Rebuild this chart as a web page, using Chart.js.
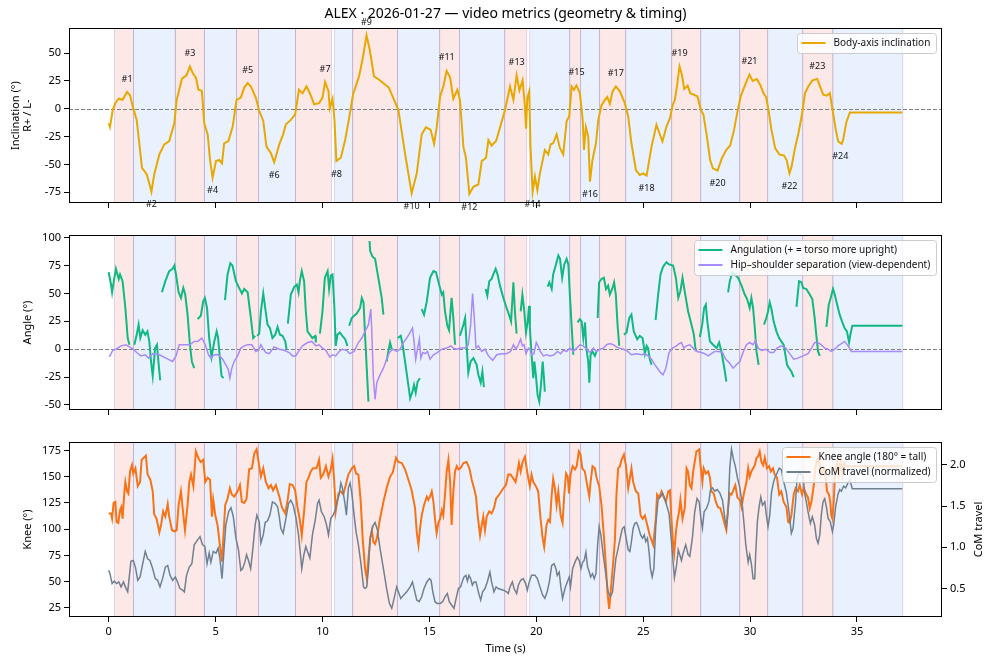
<!DOCTYPE html>
<html>
<head>
<meta charset="utf-8">
<script src="https://cdn.jsdelivr.net/npm/chart.js@4.4.1/dist/chart.umd.min.js"></script>
<style>
  html, body { margin: 0; padding: 0; background: #fff; }
  #wrap { position: relative; width: 993px; height: 664px; }
  canvas { position: absolute; left: 0; }
</style>
</head>
<body>
<div id="wrap">
  <canvas id="inclChart" width="993" height="217" style="top:0px"></canvas>
  <canvas id="angleChart" width="993" height="207" style="top:217px"></canvas>
  <canvas id="kneeChart" width="993" height="240" style="top:424px"></canvas>
</div>
<script>
  // ---- data ----
  const xTicks = [0, 5, 10, 15, 20, 25, 30, 35];

  const bandStart = [0.27, 1.16, 3.12, 4.48, 5.98, 7.01, 8.74, 10.56, 11.41, 13.51, 15.48, 16.41, 18.52, 19.69, 21.56, 22.07, 22.96, 24.18, 26.33, 27.69, 29.51, 30.82, 32.46, 33.87];
  const bandEnd   = [1.16, 3.12, 4.48, 5.98, 7.01, 8.74, 10.42, 11.41, 13.51, 15.48, 16.41, 18.52, 19.55, 21.56, 22.07, 22.96, 24.18, 26.33, 27.69, 29.51, 30.82, 32.46, 33.87, 37.14];
  const bandKind  = ['R', 'L', 'R', 'L', 'R', 'L', 'R', 'L', 'R', 'L', 'R', 'L', 'R', 'L', 'R', 'L', 'R', 'L', 'R', 'L', 'R', 'L', 'R', 'L'];

  // body-axis inclination
  const inclT = [0, 0.06, 0.19, 0.31, 0.47, 0.65, 0.86, 1.0, 1.15, 1.31, 1.56, 1.78, 1.9, 2.0, 2.13, 2.37, 2.6, 2.83, 3.07, 3.18, 3.43, 3.64, 3.8, 3.93, 4.08, 4.2, 4.36, 4.47, 4.63, 4.74, 4.86, 5.02, 5.17, 5.3, 5.4, 5.6, 5.8, 5.98, 6.18, 6.34, 6.5, 6.65, 6.88, 7.04, 7.23, 7.38, 7.59, 7.74, 7.98, 8.16, 8.29, 8.52, 8.72, 8.9, 9.07, 9.25, 9.41, 9.61, 9.84, 10.0, 10.12, 10.28, 10.34, 10.47, 10.56, 10.65, 10.86, 11.06, 11.25, 11.43, 11.71, 11.9, 12.06, 12.21, 12.41, 12.65, 13.1, 13.35, 13.55, 13.86, 14.17, 14.41, 14.64, 14.84, 15.06, 15.22, 15.34, 15.5, 15.65, 15.81, 15.97, 16.12, 16.31, 16.43, 16.59, 16.71, 16.87, 17.06, 17.29, 17.45, 17.65, 17.76, 17.91, 18.12, 18.3, 18.54, 18.77, 18.93, 19.08, 19.21, 19.36, 19.47, 19.52, 19.58, 19.67, 19.73, 19.83, 19.94, 20.05, 20.17, 20.4, 20.56, 20.67, 20.79, 20.95, 21.1, 21.26, 21.42, 21.54, 21.65, 21.76, 21.88, 22.04, 22.17, 22.23, 22.32, 22.43, 22.51, 22.63, 22.79, 22.9, 23.05, 23.21, 23.32, 23.44, 23.57, 23.72, 23.91, 24.14, 24.3, 24.45, 24.66, 24.84, 25.0, 25.16, 25.39, 25.62, 25.9, 26.09, 26.25, 26.37, 26.48, 26.58, 26.7, 26.81, 26.92, 27.08, 27.2, 27.36, 27.54, 27.7, 27.82, 27.98, 28.13, 28.26, 28.48, 28.68, 28.88, 29.07, 29.25, 29.41, 29.56, 29.77, 29.97, 30.12, 30.31, 30.47, 30.62, 30.75, 30.86, 31.0, 31.17, 31.37, 31.59, 31.71, 31.84, 31.94, 32.1, 32.26, 32.41, 32.57, 32.72, 32.92, 33.14, 33.27, 33.42, 33.58, 33.73, 33.86, 34.01, 34.12, 34.28, 34.35, 34.51, 34.67, 37.12];
  const inclV = [-13, -16.5, -1, 5, 9, 8, 15, 12, 0.5, -10, -53, -59, -67, -74.5, -59, -41, -32, -29, -13, 8, 27, 30, 38, 32, 28, 17, 16, -13, -23, -46, -62, -47, -46, -49, -31, -29, -16, 8, 10, 19, 23, 20, 10, -2, -11, -34, -40, -48, -32, -23, -14, -10, -5, 17, 14, 20, 14, 4, 5, 10, 24, 16, 0.5, 9, -10, -47, -44, -28, -8, 13, 29, 47, 66, 53, 29, 26, 19, 8, -1, -40, -76, -58, -23, -16.5, -19, -31.5, -17, 11, 20, 34, 28, 9, 17, 8, -34, -44, -76.5, -70, -68, -47, -44, -28, -33, -29, -17, -1, 20, 8, 30, 16.5, 25.5, 2, -18, 9.6, 15.6, -34, -74.5, -61, -73, -58, -37, -41, -32, -31, -23, -35, -41, -11, -7, 20, 17, 21, 14, -10, -37, -16.5, -25, -65.5, -46, -31, -10, 3, 8, 10.5, 4.5, 15.6, 20, 15.6, 5, -7, -31, -55, -59.5, -58, -60, -34, -14.4, -29.4, -16, -8.4, 2.7, 8, 20, 38, 30.6, 17.7, 20.7, 14, 12.6, 11, -1, -5.4, -25, -46, -53.5, -55.5, -44.4, -37, -33, -19, -2.4, 11, 21.6, 30.6, 25, 26.7, 21.6, 14, 10.5, -1, -19, -35.4, -41, -42, -46, -58, -52, -35.4, -22, -7, 14, 20, 25.5, 26.7, 20, 12.6, 11.7, 14, -1, -19, -29.4, -31.5, -28, -11.4, -3.3, -3.3];

  // turn markers
  const markT = [0.86, 2.0, 3.8, 4.86, 6.5, 7.74, 10.12, 10.65, 12.06, 14.17, 15.81, 16.87, 19.08, 19.83, 21.88, 22.51, 23.72, 25.16, 26.7, 28.48, 29.97, 31.84, 33.14, 34.22];
  const markV = [15, -74.5, 38, -62, 23, -48, 24, -47, 66, -76, 34, -76.5, 30, -74.5, 21, -65.5, 20, -60, 38, -55.5, 30.6, -58, 26.7, -31.5];

  // angulation (null = gap)
  const angT = [0, 0.11, 0.16, 0.23, 0.34, 0.47, 0.53, 0.65, 0.78, 0.89, 0.97, 1.08,
    1.2, 1.31, 1.4, 1.48, 1.59, 1.71, 1.81, 1.9, 1.98, 2.06, 2.17, 2.26, 2.34, 2.41, 2.45,
    2.49, 2.65, 2.83, 2.99, 3.07, 3.15, 3.27, 3.38, 3.49, 3.58, 3.69, 3.8, 3.89, 4.0, 4.08,
    4.16, 4.31, 4.42, 4.5, 4.6, 4.7, 4.81, 4.94, 5.05, 5.12, 5.2, 5.28, 5.37, 5.4,
    5.44, 5.56, 5.69, 5.79, 5.95, 6.1, 6.23, 6.34, 6.5, 6.65, 6.76, 6.85, 6.9,
    6.95, 7.04, 7.12, 7.23, 7.32, 7.43, 7.54, 7.66, 7.79, 7.9, 8.01, 8.13, 8.26, 8.32, 8.35,
    8.38, 8.52, 8.68, 8.8, 8.88, 8.94, 9.03, 9.14, 9.22, 9.3, 9.41, 9.53, 9.66, 9.69, 9.78,
    9.88, 10.0, 10.11, 10.24, 10.31, 10.39, 10.47, 10.55, 10.62, 10.7, 10.81, 10.93, 11.06, 11.17, 11.21,
    11.25, 11.37, 11.48, 11.6, 11.76, 11.84, 11.92, 11.99, 12.07, 12.15, 12.18,
    12.2, 12.23, 12.34, 12.46, 12.62, 12.77, 12.85, 12.92,
    13.0, 13.08, 13.16, 13.24, 13.4,
    13.52, 13.66, 13.75, 13.86, 13.97, 14.1, 14.21, 14.28, 14.36, 14.45, 14.56, 14.6,
    14.64, 14.75, 14.88, 15.03, 15.19, 15.31, 15.47, 15.58, 15.65, 15.73, 15.84, 15.92, 16.0, 16.04, 16.12, 16.2, 16.3,
    16.43, 16.59, 16.67, 16.74, 16.82, 16.93, 17.06, 17.21, 17.29, 17.4, 17.48, 17.55, 17.59,
    17.63, 17.71, 17.8, 17.91, 17.99, 18.1, 18.19, 18.3, 18.46, 18.61, 18.74, 18.82, 18.93, 19.0, 19.08, 19.17,
    19.27, 19.35, 19.43, 19.52, 19.6, 19.66, 19.7, 19.78, 19.86, 19.91, 19.98, 20.06, 20.14, 20.22, 20.3, 20.36, 20.4, 20.46,
    20.53, 20.61, 20.72, 20.79, 20.92, 21.03, 21.11, 21.21, 21.31, 21.42, 21.5, 21.57, 21.65, 21.73, 21.83,
    21.93, 22.04, 22.12, 22.2, 22.28, 22.34, 22.43, 22.48, 22.54, 22.63, 22.74, 22.82, 22.85,
    22.87, 22.94, 23.05, 23.16, 23.26, 23.36, 23.44, 23.55, 23.64, 23.72, 23.8, 23.88, 24.0,
    24.1, 24.22, 24.35, 24.45, 24.56, 24.72, 24.84, 24.97, 25.08, 25.16, 25.23, 25.31, 25.39, 25.48,
    25.58, 25.7, 25.81, 25.93, 26.09, 26.21, 26.4, 26.53, 26.64, 26.74, 26.84, 26.95, 27.1, 27.26, 27.37, 27.46, 27.55,
    27.65, 27.76, 27.85, 27.93, 28.0, 28.12, 28.27, 28.43, 28.55, 28.66, 28.74, 28.82, 28.89, 28.93,
    28.97, 29.05, 29.17, 29.28, 29.44, 29.6, 29.75, 29.86, 29.98, 30.06, 30.14, 30.22, 30.3, 30.4, 30.5,
    30.65, 30.76, 30.84, 30.92, 31.0, 31.1, 31.23, 31.36, 31.46, 31.57, 31.65, 31.73, 31.82, 31.93, 32.04, 32.1,
    32.17, 32.29, 32.4, 32.48, 32.63, 32.79, 32.91, 33.02, 33.1, 33.18, 33.26, 33.4,
    33.57, 33.68, 33.77, 33.88, 33.96, 34.07, 34.19, 34.3, 34.42, 34.53, 34.63, 34.69, 34.78, 37.12];
  const angV = [69, 58, 51, 60, 72, 63, 67, 61, 37, 10, 4, null,
    4, 13, 22, 10, 17, 13, 16, 7, -11, -24, 1, 4, -14, -28, null,
    51, 61, 70, 72, 75, 67, 51, 46, 55, 49, 31, 4, -11, -17, null,
    27, 30, 43, 46, 37, 10, -7, 7, 16, 10, -8, -24, -26, null,
    44, 67, 77, 75, 61, 55, 50, 54, 51, 28, 10, 12, null,
    12, 14, 34, 50, 37, 22, 19, 10, 13, 20, 13, 12, 7, 0, null,
    23, 49, 56, 58, 51, 61, 70, 61, 34, 16, 13, 10, 12, 6, null,
    14, 34, 64, 70, 54, 66, 67, 40, 3, 13, 15, 12, 9, 3, null,
    21, 28, 30, 32, 37, 46, 42, 13, -17, -47, null,
    97, 88, 83, 81, 63, 46, 31, null,
    -11, -2, 6, 0, null,
    10, 12, 4, -11, -26, -44, -38, -32, -39, -29, -26, null,
    36, 31, 43, 64, 70, 69, 57, 49, 51, 34, 21, 17, 37, 46, 28, 4, null,
    12, 22, 28, 4, -21, -11, -8, -14, -23, -30, -20, -34, null,
    54, 48, 61, 63, 67, 72, 67, 57, 46, 37, 30, 25, 60, 34, 14, null,
    34, 49, 36, 15, 25, 39, 19, -5, -26, -11, -23, -41, -47, -32, -11, -26, -38, null,
    56, 60, 54, 67, 76, 84, 81, 64, 76, 81, 76, 49, 22, -5, null,
    24, 27, 25, 10, 24, 1, -11, -30, -5, -2, -6, -2, null,
    28, 60, 63, 64, 54, 57, 49, 54, 60, 49, 22, 3, null,
    13, 15, 28, 31, 16, 9, 12, 10, -4, 3, 1, -9, -14, null,
    26, 49, 67, 74, 78, 76, 75, 64, 46, 52, 64, 51, 34, 22, 13, -2, null,
    11, 22, 37, 40, 25, 7, 4, 1, 6, -2, -11, -20, -29, null,
    51, 61, 69, 67, 64, 57, 49, 45, 37, 46, 37, 19, -2, -14, null,
    22, 28, 34, 42, 36, 25, 16, 10, 7, 4, -5, -14, -17, -20, -25, null,
    38, 61, 60, 55, 54, 49, 45, 28, 12, -2, -6, null,
    20, 40, 46, 54, 49, 40, 31, 25, 19, 16, 6, 13, 21, 21];

  // hip-shoulder separation
  const sepT = [0, 0.06, 0.19, 0.34, 0.58, 0.81, 0.97, 1.15, 1.31, 1.51, 1.71, 1.87, 2.06, 2.37, 2.68, 2.99, 3.15, 3.3, 3.43, 3.61, 3.8, 4.0, 4.16, 4.36, 4.52, 4.67, 4.78, 4.94, 5.14, 5.33, 5.48, 5.59, 5.67, 5.76, 5.87, 6.03, 6.18, 6.34, 6.5, 6.7, 6.88, 7.01, 7.12, 7.23, 7.35, 7.51, 7.74, 7.98, 8.21, 8.44, 8.6, 8.75, 8.91, 9.07, 9.3, 9.5, 9.69, 9.84, 10.0, 10.16, 10.34, 10.47, 10.62, 10.78, 10.93, 11.12, 11.28, 11.48, 11.68, 11.84, 11.99, 12.15, 12.26, 12.3, 12.38, 12.46, 12.54, 12.69, 12.85, 13.0, 13.13, 13.29, 13.47, 13.63, 13.79, 13.94, 14.1, 14.21, 14.28, 14.36, 14.45, 14.53, 14.6, 14.69, 14.8, 14.91, 15.03, 15.19, 15.37, 15.58, 15.81, 16.01, 16.12, 16.28, 16.46, 16.67, 16.82, 16.93, 17.02, 17.09, 17.18, 17.29, 17.45, 17.6, 17.76, 17.96, 18.15, 18.38, 18.61, 18.8, 18.93, 19.05, 19.16, 19.27, 19.35, 19.43, 19.52, 19.63, 19.7, 19.78, 19.89, 20.0, 20.08, 20.19, 20.33, 20.48, 20.64, 20.83, 20.99, 21.14, 21.26, 21.42, 21.57, 21.73, 21.89, 22.04, 22.2, 22.36, 22.51, 22.67, 22.82, 22.98, 23.14, 23.29, 23.44, 23.6, 23.75, 23.91, 24.07, 24.22, 24.45, 24.69, 24.92, 25.08, 25.23, 25.39, 25.55, 25.7, 25.81, 25.93, 26.06, 26.21, 26.37, 26.56, 26.68, 26.79, 26.9, 27.02, 27.18, 27.34, 27.52, 27.73, 27.88, 28.04, 28.19, 28.35, 28.55, 28.71, 28.86, 29.02, 29.21, 29.36, 29.52, 29.67, 29.83, 29.98, 30.14, 30.25, 30.37, 30.53, 30.73, 30.95, 31.1, 31.26, 31.46, 31.67, 31.85, 32.04, 32.24, 32.48, 32.71, 32.87, 33.02, 33.18, 33.33, 33.49, 33.64, 33.8, 33.96, 34.11, 34.27, 34.42, 34.58, 34.74, 37.12];
  const sepV = [-6, -6, -1, 0, 3, 4, 2, 0, -3, -6, -5, -8, -4, -5, -8, -11, -6, 4, 4, 4, 4, 7, 7, 10, 4, -5, -8, -5, -5, -9, -14, -18, -26, -17, -11, -6, 1, 3, 4, 4, -2, -1, 4, 0, -3, -4, 2, 0, -1, -3, -6, -6, -1, 3, 6, 7, 3, 4, 1, -1, -7, -5, -6, -2, 0, -1, -4, -2, 6, 10, 16, 22, 36, 19, -26, -45, -30, -23, -17, -9, -3, 0, -2, 0, 6, 10, 15, 19, 7, -9, 1, 9, -8, -3, -4, -2, -9, -5, -3, 0, 1, 3, 1, 0, 1, 1, 4, 22, 50, 31, 1, 3, -2, 0, -6, -10, -5, -4, -4, -2, 4, 0, 4, 9, 3, 4, -4, 1, 0, -5, -4, 6, 3, -2, -6, -5, -6, -5, -2, -4, -1, -2, 1, -2, 1, 4, 3, 0, -3, 1, -2, 0, 1, 4, 5, 4, 2, 1, 0, -1, -5, -4, -5, -4, -6, -9, -14, -18, -21, -23, -17, -3, 1, 3, 5, 6, 1, 3, 4, 1, -2, -3, -4, -6, -4, -2, -2, -3, -9, -12, -17, -14, -11, -3, 4, 6, 4, 8, 1, -1, 0, -3, -3, 1, 3, 1, -4, -9, -8, -6, -4, 1, 6, 6, 4, 1, 0, -2, 0, 3, 5, 7, 3, -2, -2];

  // knee angle
  const kneeT = [0, 0.11, 0.16, 0.23, 0.31, 0.37, 0.45, 0.53, 0.59, 0.65, 0.73, 0.78, 0.86, 0.92, 1.0, 1.09, 1.15, 1.25, 1.36, 1.47, 1.54, 1.64, 1.74, 1.82, 1.95, 2.06, 2.13, 2.24, 2.37, 2.45, 2.55, 2.65, 2.76, 2.83, 2.96, 3.07, 3.18, 3.27, 3.38, 3.49, 3.57, 3.69, 3.77, 3.85, 3.96, 4.08, 4.21, 4.31, 4.42, 4.52, 4.63, 4.74, 4.83, 4.89, 4.98, 5.09, 5.2, 5.3, 5.37, 5.45, 5.56, 5.67, 5.76, 5.87, 6.03, 6.14, 6.23, 6.34, 6.45, 6.57, 6.7, 6.81, 6.92, 7.01, 7.12, 7.23, 7.35, 7.48, 7.59, 7.69, 7.82, 7.98, 8.1, 8.26, 8.38, 8.47, 8.6, 8.72, 8.83, 8.94, 9.03, 9.14, 9.25, 9.35, 9.45, 9.56, 9.72, 9.84, 9.92, 10.03, 10.16, 10.28, 10.39, 10.47, 10.55, 10.62, 10.75, 10.86, 10.97, 11.09, 11.21, 11.37, 11.48, 11.57, 11.68, 11.79, 11.88, 11.99, 12.07, 12.15, 12.23, 12.31, 12.38, 12.46, 12.54, 12.69, 12.85, 13.0, 13.16, 13.29, 13.44, 13.55, 13.71, 13.86, 14.02, 14.17, 14.33, 14.41, 14.49, 14.56, 14.64, 14.75, 14.88, 14.95, 15.03, 15.11, 15.19, 15.26, 15.34, 15.42, 15.5, 15.58, 15.65, 15.73, 15.81, 15.89, 15.97, 16.04, 16.12, 16.2, 16.28, 16.36, 16.46, 16.59, 16.74, 16.87, 16.98, 17.09, 17.18, 17.26, 17.37, 17.45, 17.52, 17.6, 17.68, 17.8, 17.91, 18.02, 18.12, 18.3, 18.46, 18.58, 18.69, 18.8, 18.93, 19.03, 19.11, 19.19, 19.27, 19.36, 19.47, 19.55, 19.63, 19.7, 19.78, 19.86, 19.98, 20.09, 20.2, 20.3, 20.37, 20.48, 20.56, 20.64, 20.72, 20.79, 20.87, 20.95, 21.03, 21.14, 21.23, 21.31, 21.39, 21.47, 21.53, 21.6, 21.7, 21.81, 21.89, 21.99, 22.07, 22.15, 22.27, 22.38, 22.48, 22.54, 22.63, 22.74, 22.82, 22.94, 23.05, 23.16, 23.26, 23.33, 23.41, 23.49, 23.6, 23.68, 23.75, 23.83, 23.91, 23.99, 24.1, 24.19, 24.3, 24.38, 24.45, 24.53, 24.66, 24.77, 24.88, 24.97, 25.08, 25.19, 25.31, 25.47, 25.59, 25.65, 25.75, 25.86, 25.97, 26.06, 26.17, 26.25, 26.32, 26.4, 26.45, 26.53, 26.59, 26.68, 26.74, 26.84, 26.95, 27.03, 27.1, 27.18, 27.26, 27.34, 27.41, 27.49, 27.62, 27.68, 27.77, 27.83, 27.93, 28.04, 28.12, 28.19, 28.3, 28.4, 28.5, 28.61, 28.71, 28.82, 28.89, 28.97, 29.05, 29.13, 29.21, 29.31, 29.41, 29.52, 29.6, 29.7, 29.83, 29.91, 29.98, 30.06, 30.14, 30.22, 30.3, 30.37, 30.45, 30.53, 30.61, 30.69, 30.79, 30.89, 30.97, 31.07, 31.15, 31.26, 31.36, 31.46, 31.57, 31.7, 31.78, 31.85, 31.93, 32.04, 32.13, 32.24, 32.32, 32.43, 32.51, 32.63, 32.71, 32.79, 32.87, 32.98, 33.07, 33.18, 33.26, 33.33, 33.44, 33.54, 33.6, 33.69, 33.75, 33.8, 33.85, 33.91, 33.99, 34.07, 34.15, 34.23, 34.32, 34.4, 34.5, 37.12];
  const kneeV = [115, 115, 110, 125, 126, 107, 106, 118, 121, 110, 134, 145, 136, 134, 155, 161, 153, 158, 141, 145, 166, 168, 170, 152, 147, 136, 114, 110, 97, 104, 117, 112, 124, 112, 99, 98, 99, 123, 136, 114, 99, 123, 145, 152, 141, 174, 167, 164, 166, 145, 149, 147, 112, 128, 114, 104, 85, 69, 94, 123, 129, 139, 133, 131, 136, 142, 126, 125, 129, 157, 158, 172, 176, 164, 150, 158, 145, 139, 142, 137, 142, 131, 121, 115, 129, 143, 142, 137, 121, 109, 94, 117, 145, 149, 155, 158, 158, 166, 149, 152, 160, 150, 157, 167, 145, 117, 134, 136, 133, 142, 152, 158, 160, 153, 152, 126, 91, 63, 53, 72, 91, 99, 88, 86, 91, 110, 126, 139, 150, 154, 168, 164, 163, 157, 147, 137, 120, 97, 85, 100, 113, 123, 131, 128, 131, 136, 126, 110, 96, 106, 110, 118, 113, 133, 155, 166, 145, 104, 136, 155, 160, 157, 158, 163, 164, 158, 147, 139, 131, 113, 94, 104, 112, 99, 112, 117, 115, 120, 129, 134, 139, 142, 152, 152, 148, 145, 153, 163, 155, 164, 169, 158, 148, 141, 152, 145, 141, 136, 110, 91, 83, 104, 109, 107, 133, 148, 139, 123, 136, 113, 106, 133, 153, 150, 134, 152, 160, 157, 160, 174, 171, 158, 155, 142, 131, 145, 160, 158, 149, 141, 123, 94, 63, 40, 24, 43, 69, 91, 133, 158, 160, 166, 171, 161, 139, 149, 158, 145, 136, 134, 113, 110, 113, 104, 94, 85, 110, 133, 130, 136, 130, 126, 136, 137, 110, 85, 77, 97, 107, 117, 128, 110, 121, 158, 155, 142, 139, 155, 164, 174, 176, 161, 145, 158, 153, 155, 149, 136, 134, 126, 121, 120, 113, 104, 99, 120, 134, 133, 137, 142, 130, 128, 121, 133, 145, 158, 150, 155, 158, 161, 168, 169, 174, 164, 161, 168, 158, 160, 155, 158, 152, 149, 133, 136, 126, 121, 107, 106, 113, 133, 139, 136, 142, 133, 139, 133, 130, 120, 126, 142, 161, 168, 161, 152, 158, 149, 136, 133, 126, 113, 110, 126, 158, 164, 152, 165, 152, 163, 160, 160];

  // CoM travel (normalized)
  const comT = [0, 0.06, 0.16, 0.26, 0.37, 0.47, 0.58, 0.69, 0.78, 0.89, 0.97, 1.04, 1.15, 1.25, 1.36, 1.47, 1.59, 1.71, 1.82, 1.93, 2.06, 2.18, 2.29, 2.4, 2.52, 2.65, 2.76, 2.87, 2.99, 3.12, 3.22, 3.33, 3.46, 3.54, 3.64, 3.77, 3.89, 4.0, 4.16, 4.27, 4.39, 4.5, 4.6, 4.7, 4.78, 4.89, 5.02, 5.12, 5.2, 5.3, 5.4, 5.48, 5.61, 5.72, 5.83, 5.95, 6.07, 6.18, 6.26, 6.37, 6.45, 6.54, 6.64, 6.73, 6.85, 6.93, 7.04, 7.12, 7.23, 7.32, 7.43, 7.54, 7.66, 7.79, 7.9, 7.98, 8.05, 8.16, 8.29, 8.41, 8.52, 8.63, 8.75, 8.88, 8.97, 9.03, 9.13, 9.22, 9.3, 9.41, 9.53, 9.66, 9.77, 9.84, 9.95, 10.08, 10.19, 10.28, 10.39, 10.5, 10.59, 10.7, 10.78, 10.86, 10.93, 11.04, 11.12, 11.21, 11.29, 11.37, 11.48, 11.57, 11.68, 11.79, 11.92, 11.99, 12.07, 12.15, 12.23, 12.31, 12.38, 12.46, 12.57, 12.69, 12.85, 13.0, 13.13, 13.24, 13.35, 13.47, 13.55, 13.66, 13.79, 13.94, 14.1, 14.21, 14.3, 14.41, 14.52, 14.64, 14.75, 14.88, 15.0, 15.08, 15.16, 15.26, 15.37, 15.5, 15.62, 15.73, 15.84, 15.93, 16.04, 16.15, 16.25, 16.36, 16.46, 16.56, 16.62, 16.71, 16.78, 16.85, 16.93, 17.01, 17.09, 17.18, 17.29, 17.4, 17.49, 17.6, 17.71, 17.83, 17.91, 18.02, 18.12, 18.22, 18.46, 18.61, 18.69, 18.77, 18.88, 18.96, 19.08, 19.16, 19.27, 19.39, 19.5, 19.58, 19.67, 19.78, 19.94, 20.05, 20.17, 20.3, 20.4, 20.51, 20.61, 20.72, 20.83, 20.92, 20.98, 21.07, 21.15, 21.23, 21.34, 21.45, 21.54, 21.6, 21.7, 21.81, 21.92, 22.01, 22.09, 22.17, 22.24, 22.32, 22.4, 22.48, 22.54, 22.63, 22.71, 22.79, 22.87, 22.94, 23.02, 23.13, 23.26, 23.36, 23.47, 23.57, 23.64, 23.72, 23.83, 23.94, 24.03, 24.11, 24.19, 24.3, 24.38, 24.45, 24.53, 24.61, 24.69, 24.77, 24.88, 24.97, 25.05, 25.12, 25.2, 25.28, 25.34, 25.42, 25.5, 25.59, 25.7, 25.81, 25.9, 26.01, 26.12, 26.21, 26.32, 26.4, 26.46, 26.56, 26.64, 26.71, 26.79, 26.87, 26.99, 27.1, 27.18, 27.3, 27.41, 27.52, 27.62, 27.7, 27.77, 27.85, 27.96, 28.07, 28.15, 28.24, 28.35, 28.46, 28.58, 28.71, 28.82, 28.89, 28.97, 29.05, 29.13, 29.21, 29.31, 29.41, 29.52, 29.63, 29.72, 29.8, 29.91, 29.98, 30.06, 30.14, 30.22, 30.26, 30.34, 30.42, 30.5, 30.58, 30.69, 30.76, 30.84, 30.92, 31.0, 31.07, 31.15, 31.23, 31.36, 31.46, 31.57, 31.7, 31.82, 31.93, 32.01, 32.12, 32.2, 32.29, 32.4, 32.48, 32.55, 32.63, 32.71, 32.82, 32.91, 33.02, 33.1, 33.18, 33.26, 33.33, 33.41, 33.49, 33.57, 33.65, 33.75, 33.85, 33.91, 34.0, 34.11, 34.19, 34.27, 34.37, 34.47, 34.58, 34.66, 34.78, 37.12];
  const comV = [0.72, 0.68, 0.56, 0.59, 0.56, 0.58, 0.52, 0.58, 0.52, 0.46, 0.66, 0.83, 0.84, 0.76, 0.6, 0.64, 0.8, 0.95, 0.86, 0.84, 0.74, 0.62, 0.6, 0.52, 0.62, 0.76, 0.78, 0.66, 0.6, 0.64, 0.58, 0.5, 0.48, 0.46, 0.66, 0.76, 0.8, 1.03, 1.09, 1.13, 1.03, 1.01, 0.8, 0.93, 0.82, 0.95, 0.93, 0.99, 0.87, 0.62, 0.99, 1.27, 1.43, 1.48, 1.37, 1.11, 0.97, 0.72, 0.74, 0.82, 0.91, 0.84, 0.74, 0.95, 1.27, 1.39, 1.31, 1.05, 1.15, 1.3, 1.32, 1.39, 1.55, 1.53, 1.49, 1.37, 1.23, 1.17, 1.35, 1.53, 1.57, 1.51, 1.37, 1.15, 0.91, 0.74, 0.91, 1.01, 0.95, 0.87, 1.15, 1.33, 1.53, 1.57, 1.43, 1.37, 1.27, 1.15, 1.35, 1.39, 1.45, 1.57, 1.64, 1.78, 1.72, 1.55, 1.39, 1.72, 1.78, 1.66, 1.39, 1.19, 1.03, 0.82, 0.52, 0.5, 0.52, 0.74, 1.11, 1.21, 1.27, 1.3, 1.21, 0.99, 0.74, 0.5, 0.32, 0.26, 0.38, 0.52, 0.46, 0.38, 0.42, 0.46, 0.52, 0.58, 0.48, 0.36, 0.34, 0.4, 0.5, 0.58, 0.62, 0.6, 0.46, 0.34, 0.32, 0.32, 0.34, 0.4, 0.44, 0.34, 0.3, 0.26, 0.38, 0.5, 0.52, 0.6, 0.64, 0.66, 0.59, 0.66, 0.62, 0.54, 0.58, 0.58, 0.46, 0.36, 0.46, 0.5, 0.58, 0.7, 0.58, 0.46, 0.52, 0.5, 0.48, 0.46, 0.44, 0.52, 0.58, 0.5, 0.44, 0.54, 0.6, 0.62, 0.56, 0.48, 0.58, 0.66, 0.66, 0.62, 0.52, 0.42, 0.38, 0.46, 0.58, 0.78, 0.8, 0.74, 0.66, 0.7, 0.52, 0.38, 0.5, 0.58, 0.64, 0.52, 0.74, 0.82, 0.88, 0.84, 0.74, 0.82, 0.84, 0.94, 0.76, 0.7, 0.64, 0.68, 0.62, 0.68, 1.03, 1.25, 1.15, 0.91, 0.66, 0.46, 0.4, 0.46, 0.66, 0.86, 0.99, 1.13, 1.23, 1.25, 1.13, 0.97, 0.95, 1.07, 1.23, 1.29, 1.3, 1.25, 1.15, 1.11, 1.15, 1.07, 1.11, 0.93, 0.74, 0.64, 0.74, 1.27, 1.59, 1.61, 1.66, 1.59, 1.49, 1.41, 1.07, 0.82, 0.63, 0.78, 0.97, 0.91, 0.84, 0.93, 1.03, 0.91, 0.89, 1.11, 1.43, 1.59, 1.55, 1.35, 1.23, 1.43, 1.47, 1.55, 1.7, 1.72, 1.68, 1.7, 1.66, 1.57, 1.35, 1.25, 1.43, 1.96, 2.19, 2.08, 1.98, 1.84, 1.72, 1.53, 1.27, 1.03, 0.82, 0.91, 0.8, 0.62, 0.62, 0.91, 1.31, 1.49, 1.61, 1.51, 1.55, 1.39, 1.25, 1.39, 1.66, 1.76, 1.84, 1.88, 1.96, 1.94, 1.8, 1.66, 1.43, 1.17, 1.23, 1.53, 1.84, 1.92, 1.88, 1.86, 1.66, 1.55, 1.43, 1.29, 1.37, 1.27, 1.11, 1.05, 1.15, 1.39, 1.55, 1.59, 1.49, 1.35, 1.31, 1.19, 1.27, 1.49, 1.64, 1.7, 1.68, 1.74, 1.72, 1.78, 1.82, 1.71, 1.71];

  // ---- helpers / plugins ----
  const FONT = '"Noto Sans", "DejaVu Sans", sans-serif';
  const XMIN = -1.856, XMAX = 38.976;

  function pts(t, v) {
    return t.map(function (x, i) { return { x: x, y: v[i] }; });
  }

  const bands = {
    id: 'bands',
    beforeDatasetsDraw(chart) {
      const { ctx, chartArea: a, scales: { x } } = chart;
      ctx.save();
      ctx.beginPath();
      ctx.rect(a.left, a.top, a.width, a.height);
      ctx.clip();
      for (let i = 0; i < bandStart.length; i++) {
        const x0 = x.getPixelForValue(bandStart[i]);
        const x1 = x.getPixelForValue(bandEnd[i]);
        ctx.fillStyle = bandKind[i] === 'R' ? 'rgba(239,68,68,0.12)' : 'rgba(59,130,246,0.11)';
        ctx.fillRect(x0, a.top, x1 - x0, a.height);
        ctx.strokeStyle = 'rgba(120,90,160,0.22)';
        ctx.lineWidth = 1;
        ctx.beginPath();
        ctx.moveTo(x0, a.top); ctx.lineTo(x0, a.bottom);
        ctx.moveTo(x1, a.top); ctx.lineTo(x1, a.bottom);
        ctx.stroke();
      }
      ctx.restore();
    }
  };

  const zeroLine = {
    id: 'zeroLine',
    beforeDatasetsDraw(chart, args, opts) {
      if (!opts || !opts.show) return;
      const { ctx, chartArea: a, scales: { y } } = chart;
      const yy = Math.round(y.getPixelForValue(0)) + 0.5;
      ctx.save();
      ctx.strokeStyle = '#808080';
      ctx.lineWidth = 1;
      ctx.setLineDash([4, 2]);
      ctx.beginPath();
      ctx.moveTo(a.left, yy); ctx.lineTo(a.right, yy);
      ctx.stroke();
      ctx.restore();
    }
  };

  const marks = {
    id: 'marks',
    afterDatasetsDraw(chart, args, opts) {
      if (!opts || !opts.show) return;
      const { ctx, scales: { x, y } } = chart;
      ctx.save();
      ctx.font = '9px ' + FONT;
      ctx.fillStyle = '#111';
      ctx.textAlign = 'center';
      ctx.textBaseline = 'middle';
      for (let i = 0; i < markT.length; i++) {
        const px = x.getPixelForValue(markT[i]);
        const py = y.getPixelForValue(markV[i]) + (markV[i] >= 0 ? -13 : 13);
        ctx.fillText('#' + (i + 1), px, py);
      }
      ctx.restore();
    }
  };

  const boxLegend = {
    id: 'boxLegend',
    afterDatasetsDraw(chart) {
      const { ctx, chartArea: a } = chart;
      const items = chart.data.datasets;
      ctx.save();
      ctx.font = '10px ' + FONT;
      let w = 0;
      items.forEach(function (d) { w = Math.max(w, ctx.measureText(d.label).width); });
      const boxW = Math.round(w + 42), boxH = items.length * 15 + 5;
      const x0 = Math.round(a.right - 6 - boxW) + 0.5, y0 = Math.round(a.top + 5) + 0.5;
      ctx.fillStyle = 'rgba(255,255,255,0.8)';
      ctx.strokeStyle = '#cccccc';
      ctx.lineWidth = 1;
      ctx.beginPath();
      ctx.roundRect(x0, y0, boxW, boxH, 3);
      ctx.fill();
      ctx.stroke();
      items.forEach(function (d, i) {
        const yy = y0 + 9.5 + 15 * i;
        ctx.strokeStyle = d.borderColor;
        ctx.lineWidth = 2;
        ctx.beginPath();
        ctx.moveTo(x0 + 4, yy); ctx.lineTo(x0 + 28, yy);
        ctx.stroke();
        ctx.fillStyle = '#111';
        ctx.textBaseline = 'middle';
        ctx.fillText(d.label, x0 + 36, yy);
      });
      ctx.restore();
    }
  };

  const frame = {
    id: 'frame',
    afterDraw(chart) {
      const { ctx, chartArea: a } = chart;
      ctx.save();
      ctx.strokeStyle = '#000';
      ctx.lineWidth = 1;
      ctx.strokeRect(Math.round(a.left) + 0.5, Math.round(a.top) + 0.5, Math.round(a.width) - 1, Math.round(a.height) - 1);
      ctx.restore();
    }
  };

  // right-hand axis label, read bottom to top like the original
  const rightTitle = {
    id: 'rightTitle',
    afterDraw(chart, args, opts) {
      if (!opts || !opts.text) return;
      const { ctx, chartArea: a } = chart;
      ctx.save();
      ctx.font = '11px ' + FONT;
      ctx.fillStyle = '#000';
      ctx.textAlign = 'center';
      ctx.textBaseline = 'middle';
      ctx.translate(979, (a.top + a.bottom) / 2);
      ctx.rotate(-Math.PI / 2);
      ctx.fillText(opts.text, 0, 0);
      ctx.restore();
    }
  };

  function xAxis(showLabels) {
    return {
      type: 'linear', min: XMIN, max: XMAX,
      afterBuildTicks: function (s) { s.ticks = xTicks.map(function (v) { return { value: v }; }); },
      afterFit: function (s) { s.height = showLabels ? 47 : 14; },
      grid: { drawOnChartArea: false, drawTicks: true, tickLength: 5, color: '#000' },
      border: { display: false },
      ticks: { display: showLabels, autoSkip: false, maxRotation: 0, color: '#000', padding: 3, font: { family: FONT, size: 11 } },
      title: { display: showLabels, text: 'Time (s)', color: '#000', font: { family: FONT, size: 11 }, padding: { top: 0, bottom: 9 } }
    };
  }

  function yAxis(min, max, tickVals, title, pad, lh) {
    return {
      type: 'linear', position: 'left', min: min, max: max,
      afterBuildTicks: function (s) { s.ticks = tickVals.map(function (v) { return { value: v }; }); },
      afterFit: function (s) { s.width = 69; },
      grid: { drawOnChartArea: false, drawTicks: true, tickLength: 5, color: '#000' },
      border: { display: false },
      ticks: { color: '#000', padding: 3, font: { family: FONT, size: 11 } },
      title: { display: true, text: title, color: '#000', font: { family: FONT, size: 11, lineHeight: lh || 1.2 }, padding: { top: pad, bottom: 0 } }
    };
  }

  Chart.defaults.font.family = FONT;
  Chart.defaults.animation = false;

  const basePlugins = {
    legend: { display: false },
    tooltip: { enabled: false }
  };

  // ---- panel 1: inclination ----
  const inclChart = new Chart(document.getElementById('inclChart').getContext('2d'), {
    type: 'line',
    data: {
      datasets: [{
        label: 'Body-axis inclination',
        data: pts(inclT, inclV),
        borderColor: '#e9a800',
        borderWidth: 2,
        pointRadius: 0,
        tension: 0
      }]
    },
    options: {
      responsive: false,
      layout: { padding: { left: 0, right: 51, top: 0, bottom: 0 } },
      scales: {
        x: xAxis(false),
        y: yAxis(-84.6, 72.2, [-75, -50, -25, 0, 25, 50], ['Inclination (°)', 'R+ / L-'], 10, 1.1)
      },
      plugins: Object.assign({}, basePlugins, {
        title: {
          display: true, fullSize: false, color: '#000',
          text: 'ALEX · 2026-01-27 — video metrics (geometry & timing)',
          font: { family: FONT, size: 14, weight: 'normal' },
          padding: { top: 6, bottom: 5.5 }
        },
        zeroLine: { show: true },
        marks: { show: true }
      })
    },
    plugins: [bands, zeroLine, marks, boxLegend, frame]
  });

  // ---- panel 2: angles ----
  const angleChart = new Chart(document.getElementById('angleChart').getContext('2d'), {
    type: 'line',
    data: {
      datasets: [{
        label: 'Angulation (+ = torso more upright)',
        data: pts(angT, angV),
        borderColor: '#10b981',
        borderWidth: 2,
        pointRadius: 0,
        tension: 0,
        spanGaps: false,
        order: 2
      }, {
        label: 'Hip–shoulder separation (view-dependent)',
        data: pts(sepT, sepV),
        borderColor: '#a78bfa',
        borderWidth: 1.5,
        pointRadius: 0,
        tension: 0,
        order: 1
      }]
    },
    options: {
      responsive: false,
      layout: { padding: { left: 0, right: 51, top: 18, bottom: 0 } },
      scales: {
        x: xAxis(false),
        y: yAxis(-54.5, 102.4, [-50, -25, 0, 25, 50, 75, 100], 'Angle (°)', 21)
      },
      plugins: Object.assign({}, basePlugins, { zeroLine: { show: true } })
    },
    plugins: [bands, zeroLine, boxLegend, frame]
  });

  // ---- panel 3: knee + CoM ----
  const kneeChart = new Chart(document.getElementById('kneeChart').getContext('2d'), {
    type: 'line',
    data: {
      datasets: [{
        label: 'Knee angle (180° = tall)',
        data: pts(kneeT, kneeV),
        borderColor: '#f97316',
        borderWidth: 2,
        pointRadius: 0,
        tension: 0,
        yAxisID: 'y',
        order: 2
      }, {
        label: 'CoM travel (normalized)',
        data: pts(comT, comV),
        borderColor: '#708090',
        borderWidth: 1.5,
        pointRadius: 0,
        tension: 0,
        yAxisID: 'y2',
        order: 1
      }]
    },
    options: {
      responsive: false,
      layout: { padding: { left: 0, right: 0, top: 18, bottom: 0 } },
      scales: {
        x: xAxis(true),
        y: yAxis(16.4, 183, [25, 50, 75, 100, 125, 150, 175], 'Knee (°)', 21),
        y2: {
          type: 'linear', position: 'right', min: 0.155, max: 2.276,
          afterBuildTicks: function (s) { s.ticks = [0.5, 1.0, 1.5, 2.0].map(function (v) { return { value: v }; }); },
          afterFit: function (s) { s.width = 51; },
          grid: { drawOnChartArea: false, drawTicks: true, tickLength: 5, color: '#000' },
          border: { display: false },
          ticks: { color: '#000', padding: 3, font: { family: FONT, size: 11 }, callback: function (v) { return v.toFixed(1); } },
          title: { display: false }
        }
      },
      plugins: Object.assign({}, basePlugins, { rightTitle: { text: 'CoM travel' } })
    },
    plugins: [bands, boxLegend, frame, rightTitle]
  });
</script>
</body>
</html>
